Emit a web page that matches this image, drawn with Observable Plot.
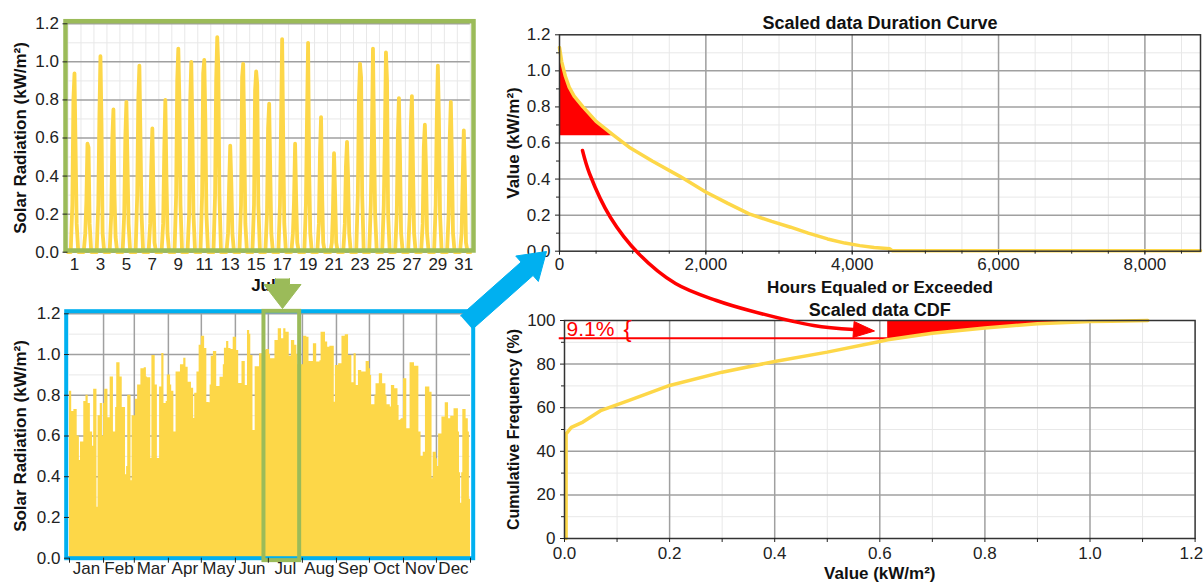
<!DOCTYPE html>
<html><head><meta charset="utf-8">
<script src="https://cdn.jsdelivr.net/npm/d3@7"></script>
<script src="https://cdn.jsdelivr.net/npm/@observablehq/plot@0.6"></script>
<style>
html,body{margin:0;padding:0;background:#fff;}
#root{position:relative;width:1204px;height:582px;overflow:hidden;background:#fff;}
#root svg{position:absolute;background:transparent;overflow:visible;}
</style></head><body><div id="root"></div>
<script>
// ---------- DATA ----------
// July hourly profile: values at these hours of each day (first/last are zero)
const julyShapeHours = [5, 8, 10, 12, 14, 16, 19];
const julyProfiles = [
  [0.25,0.80,0.94,0.55,0.15],[0.10,0.27,0.57,0.55,0.15],[0.25,0.70,1.03,0.67,0.10],
  [0.20,0.60,0.75,0.30,0.08],[0.20,0.60,0.79,0.47,0.15],[0.30,0.80,0.98,0.60,0.20],
  [0.15,0.45,0.65,0.31,0.05],[0.15,0.53,0.80,0.40,0.10],[0.30,0.90,1.07,0.80,0.25],
  [0.20,0.79,1.00,0.65,0.20],[0.30,0.94,1.01,0.70,0.20],[0.30,0.90,1.13,0.97,0.30],
  [0.10,0.35,0.56,0.37,0.10],[0.25,0.92,0.99,0.60,0.15],[0.25,0.85,0.95,0.88,0.25],
  [0.20,0.65,0.78,0.43,0.10],[0.25,0.67,1.12,0.60,0.15],[0.10,0.27,0.57,0.27,0.05],
  [0.25,0.70,1.10,0.43,0.10],[0.15,0.52,0.71,0.30,0.05],[0.05,0.22,0.52,0.30,0.05],
  [0.15,0.45,0.58,0.39,0.10],[0.30,0.80,0.99,0.92,0.30],[0.25,0.60,1.07,0.60,0.20],
  [0.25,0.60,1.05,0.90,0.20],[0.20,0.61,0.81,0.50,0.10],[0.20,0.66,0.82,0.45,0.10],
  [0.15,0.55,0.67,0.45,0.10],[0.25,0.70,0.98,0.70,0.20],[0.20,0.60,0.79,0.49,0.10],
  [0.10,0.39,0.64,0.40,0.05]
];
const julyTickDays = [1,3,5,7,9,11,13,15,17,19,21,23,25,27,29,31];

// Annual daily peaks
const monthNames = ["Jan","Feb","Mar","Apr","May","Jun","Jul","Aug","Sep","Oct","Nov","Dec"];
const monthDays = [31,28,31,30,31,30,31,31,30,31,30,31];
const jan = [0.82,0.82,0.72,0.72,0.73,0.73,0.73,0.60,0.60,0.48,0.57,0.57,0.57,0.77,0.77,0.80,0.80,0.76,0.76,0.62,0.62,0.55,0.83,0.83,0.83,0.25,0.70,0.70,0.76,0.76,0.60];
const feb = [0.76,0.83,0.83,0.83,0.69,0.69,0.89,0.89,0.89,0.62,0.62,0.74,0.96,0.96,0.96,0.89,0.89,0.74,0.74,0.74,0.41,0.45,0.80,0.80,0.80,0.38,0.70,0.70];
const mar = [0.70,0.78,0.78,0.85,0.85,0.85,0.93,0.93,0.93,0.935,0.935,0.89,0.886,0.886,0.886,0.49,0.995,0.995,0.995,0.85,0.85,0.49,0.49,0.84,0.84,1.005,1.005,0.76,0.76,0.77,0.90];
const apr = [0.90,0.90,0.85,0.82,0.82,0.62,0.62,0.914,0.914,0.914,0.914,0.95,0.95,0.95,0.982,0.982,0.938,0.938,0.864,0.864,0.864,0.835,0.835,0.686,0.81,0.81,0.914,0.914,1.045,1.045];
const may = [1.09,1.09,1.09,1.03,1.03,0.765,0.765,0.763,0.85,0.992,0.992,1.015,1.015,1.015,0.843,0.843,0.843,0.889,0.889,0.889,0.95,1.031,1.031,1.064,1.064,1.03,1.03,1.025,1.025,1.085,1.085];
const jun = [1.085,1.02,1.02,0.858,0.858,0.858,0.966,0.966,0.966,0.848,0.848,1.118,1.118,1.10,0.995,0.995,0.627,0.627,0.94,0.94,0.94,0.94,1.004,1.004,1.004,0.81,1.02,1.02,1.025,1.025];
const jul = [1.025,1.0,0.979,0.979,0.979,0.979,1.069,1.069,1.069,1.127,1.127,1.127,1.078,1.078,1.127,1.127,1.11,1.11,1.11,0.992,0.992,1.069,1.069,1.069,1.045,1.045,1.0,0.95,0.95,0.95,0.95];
const aug = [0.95,1.09,1.09,1.09,1.085,1.085,0.966,0.966,0.966,0.966,1.053,1.053,1.053,0.963,0.963,0.963,0.97,1.11,1.11,1.11,1.11,1.061,1.061,1.036,1.036,1.041,1.041,1.041,1.041,0.766,0.946];
const sep = [0.946,0.946,0.955,0.955,0.955,1.09,1.09,1.09,1.097,1.097,1.097,0.995,0.995,0.995,0.861,0.861,1.004,1.004,0.848,0.848,0.922,0.922,0.922,0.914,0.914,0.914,0.914,0.966,0.966,0.966];
const oct = [0.93,0.897,0.753,0.753,0.753,0.80,0.857,0.857,0.857,0.906,0.906,0.906,0.857,0.857,0.857,0.80,0.753,0.753,0.753,0.742,0.848,0.848,0.848,0.832,0.832,0.832,0.75,0.676,0.68,0.685,0.685];
const nov = [0.881,0.881,0.881,0.635,0.635,0.635,0.96,0.96,0.96,0.96,0.943,0.943,0.943,0.943,0.62,0.62,0.50,0.50,0.52,0.52,0.84,0.84,0.84,0.84,0.815,0.815,0.39,0.52,0.52,0.52];
const dec = [0.488,0.45,0.61,0.61,0.61,0.693,0.693,0.693,0.763,0.763,0.763,0.685,0.685,0.697,0.697,0.697,0.734,0.734,0.734,0.734,0.62,0.42,0.27,0.42,0.73,0.73,0.73,0.685,0.685,0.62,0.29];
const julyBox = [{start: 177, end: 209.5}];

// Duration curve (hours equaled or exceeded, value)
const durHours  = [0,30,80,132,200,321,500,750,952,1267,1645,1992,2300,2591,2900,3158,3400,3663,3900,4104,4300,4514,4545,8760];
const durValues = [1.13,1.05,0.97,0.91,0.86,0.80,0.72,0.64,0.577,0.50,0.415,0.33,0.265,0.207,0.165,0.133,0.10,0.068,0.045,0.031,0.02,0.013,0.003,0.003];
const durTicks = [0, 2000, 4000, 6000, 8000];
const durRedLevel = 0.64;
const durRedUntil = 750;

// CDF (value, cumulative %)
const cdfValues = [0.003,0.003,0.013,0.035,0.07,0.123,0.2,0.3,0.4,0.5,0.6,0.615,0.7,0.8,0.9,1.0,1.04,1.11];
const cdfPct    = [0,48,51,53.4,58.8,63.4,70.2,76.3,81.2,85.5,90.4,91.2,94.2,96.6,98.5,99.5,99.7,100];
const cdfRedFrom = 0.615, cdfRedTo = 1.04, cdfLine = 91.9;
const exceedLabel = "9.1%";

// ---------- STYLE ----------
const FONT = '"Liberation Sans", Arial, Helvetica, sans-serif';
const YEL = "#FDD748", GREEN = "#9BBB59", BLUE = "#00B0F0", RED = "#FF0000";
const MAJ = "#a0a0a0", MIN = "#e8e8e8";
const root = document.getElementById("root");
function place(svg, left, top) { svg.style.left = left + "px"; svg.style.top = top + "px"; root.appendChild(svg); }
const baseStyle = {fontFamily: FONT, fontSize: "17px", color: "#222", background: "transparent", overflow: "visible"};
const tenths = d3.range(0, 13).map(d => d / 10);
const oddTenths = tenths.filter((d, i) => i % 2 === 1);
const fifths = tenths.filter((d, i) => i % 2 === 0);
const lab = {lineAnchor: "middle", textAnchor: "middle", fontWeight: "bold", fill: "#111"};
const f1 = d3.format(".1f"), fComma = d3.format(",");

// ---------- PANEL A: July hourly ----------
const julyPts = [{h: 0, v: 0}];
julyProfiles.forEach((vals, i) => {
  const full = [0, ...vals, 0];
  julyShapeHours.forEach((h, k) => julyPts.push({h: 24 * i + h, v: full[k]}));
});
julyPts.push({h: 744, v: 0});

place(Plot.plot({
  width: 480, height: 300,
  marginLeft: 67.5, marginRight: 10.2, marginTop: 23.3, marginBottom: 48.3,
  style: baseStyle,
  x: {domain: [0, 744]}, y: {domain: [0, 1.2]},
  marks: [
    Plot.gridX(d3.range(0, 745, 24), {stroke: MIN, strokeOpacity: 1}),
    Plot.gridY(oddTenths, {stroke: MIN, strokeOpacity: 1}),
    Plot.gridY(fifths, {stroke: MAJ, strokeOpacity: 1, strokeWidth: 1.5}),
    Plot.line(julyPts, {x: "h", y: "v", stroke: YEL, strokeWidth: 3.8, strokeLinejoin: "round"}),
    Plot.frame({stroke: GREEN, strokeWidth: 4.5, insetLeft: -2.5, insetRight: -3.2, insetTop: -2.6, insetBottom: 1.7}),
    Plot.axisY(fifths, {tickFormat: f1, tickSize: 5, tickPadding: 4, label: null}),
    Plot.axisX(julyTickDays.map(d => 24 * (d - 1) + 12), {tickFormat: h => String(Math.round((h - 12) / 24 + 1)), tickSize: 0, tickPadding: 6, label: null}),
    Plot.text(["July"], {...lab, frameAnchor: "bottom", dy: 33.5, dx: -1}),
    Plot.text(["Solar Radiation (kW/m²)"], {...lab, frameAnchor: "left", rotate: -90, dx: -47.5})
  ]
}), 0, 0);

// ---------- PANEL B: annual daily peaks ----------
const dailyPeak = [...jan, ...feb, ...mar, ...apr, ...may, ...jun, ...jul, ...aug, ...sep, ...oct, ...nov, ...dec];
const yearPts = dailyPeak.map((v, i) => ({d: i, v}));
yearPts.push({d: dailyPeak.length, v: dailyPeak[dailyPeak.length - 1]});
const monthStart = [0, ...d3.cumsum(monthDays)];
const monthMid = monthNames.map((m, i) => (monthStart[i] + monthStart[i + 1]) / 2);
const nameByMid = new Map(monthMid.map((m, i) => [m, monthNames[i]]));

place(Plot.plot({
  width: 480, height: 292,
  marginLeft: 69, marginRight: 10, marginTop: 23.3, marginBottom: 24.3,
  style: baseStyle,
  x: {domain: [0, 365]}, y: {domain: [0, 1.2]},
  marks: [
    Plot.gridY(oddTenths, {stroke: MIN, strokeOpacity: 1}),
    Plot.gridY(fifths, {stroke: MAJ, strokeOpacity: 1, strokeWidth: 1.5}),
    Plot.gridX(monthStart.slice(1, 12), {stroke: MAJ, strokeOpacity: 1, strokeWidth: 1.5}),
    Plot.areaY(yearPts, {x: "d", y: "v", curve: "step-after", fill: YEL}),
    Plot.frame({stroke: BLUE, strokeWidth: 4, insetLeft: -3.3, insetRight: -2.7, insetTop: -2.6}),
    Plot.rect(julyBox, {x1: "start", x2: "end", y1: -0.012, y2: 1.212, stroke: GREEN, strokeWidth: 4, fill: "none"}),
    Plot.axisY(fifths, {tickFormat: f1, tickSize: 5, tickPadding: 4, label: null}),
    Plot.axisX(monthStart, {text: null, tickSize: 5, label: null}),
    Plot.axisX(monthMid, {tickFormat: d => nameByMid.get(d), tickSize: 0, tickPadding: 4, label: null}),
    Plot.text(["Solar Radiation (kW/m²)"], {...lab, frameAnchor: "left", rotate: -90, dx: -49})
  ]
}), 0, 290);

// ---------- PANEL C: duration curve ----------
const durPts = durHours.map((h, i) => ({h, v: durValues[i]}));
place(Plot.plot({
  width: 714, height: 300,
  marginLeft: 69, marginRight: 4, marginTop: 34.3, marginBottom: 49.3,
  style: baseStyle,
  x: {domain: [0, 8760]}, y: {domain: [0, 1.2]},
  marks: [
    Plot.gridX(d3.range(500, 8761, 500), {stroke: MIN, strokeOpacity: 1}),
    Plot.gridY(oddTenths, {stroke: MIN, strokeOpacity: 1}),
    Plot.gridX(durTicks.slice(1), {stroke: MAJ, strokeOpacity: 1, strokeWidth: 1.5}),
    Plot.gridY(fifths.slice(1, 6), {stroke: MAJ, strokeOpacity: 1, strokeWidth: 1.5}),
    Plot.areaY(durPts.filter(d => d.h <= durRedUntil), {x: "h", y1: durRedLevel, y2: "v", fill: RED}),
    Plot.line(durPts, {x: "h", y: "v", stroke: YEL, strokeWidth: 3.5}),
    Plot.frame({stroke: "#333", strokeWidth: 1.5}),
    Plot.axisY(fifths, {tickFormat: f1, tickSize: 4, tickPadding: 5, label: null}),
    Plot.axisY(oddTenths, {text: null, tickSize: 3, label: null}),
    Plot.axisX(durTicks, {tickFormat: fComma, tickSize: 4, tickPadding: 3, label: null}),
    Plot.axisX(d3.range(500, 8761, 500), {text: null, tickSize: 3, label: null}),
    Plot.text(["Scaled data Duration Curve"], {...lab, frameAnchor: "top", dy: -12, fontSize: 18}),
    Plot.text(["Hours Equaled or Exceeded"], {...lab, frameAnchor: "bottom", dy: 36}),
    Plot.text(["Value (kW/m²)"], {...lab, frameAnchor: "left", rotate: -90, dx: -46})
  ]
}), 490, 0);

// ---------- PANEL D: CDF ----------
const cdfPts = cdfValues.map((x, i) => ({x, p: cdfPct[i]}));
const cdfXTicks = fifths;
place(Plot.plot({
  width: 714, height: 292,
  marginLeft: 74, marginRight: 9.4, marginTop: 30, marginBottom: 44,
  style: baseStyle,
  x: {domain: [0, 1.2]}, y: {domain: [0, 100]},
  marks: [
    Plot.gridX(oddTenths, {stroke: MIN, strokeOpacity: 1}),
    Plot.gridY(d3.range(10, 100, 20), {stroke: MIN, strokeOpacity: 1}),
    Plot.gridX(fifths.slice(1, 6), {stroke: MAJ, strokeOpacity: 1, strokeWidth: 1.5}),
    Plot.gridY([20, 40, 60, 80], {stroke: MAJ, strokeOpacity: 1, strokeWidth: 1.5}),
    Plot.areaY(cdfPts.filter(d => d.x >= cdfRedFrom && d.x <= cdfRedTo), {x: "x", y1: "p", y2: 100, fill: RED}),
    Plot.ruleY([cdfLine], {x1: -0.01, x2: cdfRedFrom, stroke: RED, strokeWidth: 2}),
    Plot.line(cdfPts, {x: "x", y: "p", stroke: YEL, strokeWidth: 3.5}),
    Plot.frame({stroke: "#333", strokeWidth: 1.5}),
    Plot.text([exceedLabel], {x: 0.004, y: 96.2, textAnchor: "start", lineAnchor: "middle", fill: RED, fontSize: 21}),
    Plot.text(["{"], {x: 0.12, y: 95.8, lineAnchor: "middle", fill: RED, fontSize: 24}),
    Plot.axisY([0, 20, 40, 60, 80, 100], {tickSize: 4, tickPadding: 5, label: null}),
    Plot.axisY(d3.range(10, 100, 20), {text: null, tickSize: 3, label: null}),
    Plot.axisX(cdfXTicks.slice(0, -1), {tickFormat: f1, tickSize: 4, tickPadding: 4, label: null}),
    Plot.axisX(oddTenths.concat([1.2]), {text: null, tickSize: 4, label: null}),
    Plot.text(cdfXTicks.slice(-1), {x: d => d, frameAnchor: "bottom", lineAnchor: "top", dy: 8, textAnchor: "end", dx: 8, text: f1, fill: "#222"}),
    Plot.text(["Scaled data CDF"], {...lab, frameAnchor: "top", dy: -10, fontSize: 18}),
    Plot.text(["Value (kW/m²)"], {...lab, frameAnchor: "bottom", dy: 35}),
    Plot.text(["Cumulative Frequency (%)"], {...lab, frameAnchor: "left", rotate: -90, dx: -51, fontSize: 16})
  ]
}), 490, 290);

// ---------- OVERLAY ARROWS (page pixel space) ----------
function blockArrow(x0, y0, x1, y1, shaftHalf, headHalf, headLen) {
  const L = Math.hypot(x1 - x0, y1 - y0), ux = (x1 - x0) / L, uy = (y1 - y0) / L, nx = -uy, ny = ux;
  const bx = x1 - ux * headLen, by = y1 - uy * headLen;
  return [[x0 + nx * shaftHalf, y0 + ny * shaftHalf], [bx + nx * shaftHalf, by + ny * shaftHalf],
          [bx + nx * headHalf, by + ny * headHalf], [x1, y1], [bx - nx * headHalf, by - ny * headHalf],
          [bx - nx * shaftHalf, by - ny * shaftHalf], [x0 - nx * shaftHalf, y0 - ny * shaftHalf]]
    .map(([x, y]) => ({x, y}));
}
const blueArrow = blockArrow(466, 322, 546, 251, 9, 17, 26);
const greenArrow = blockArrow(282, 278, 282, 308, 7, 18.5, 24);
const redCurve = [[582,150],[589,173],[610,217],[638,253],[675,283],[716,300],[749,310],[813,325],[853,329]].map(([x, y]) => ({x, y}));
const redHead = blockArrow(853, 329, 874, 330.5, 0, 8, 21);

place(Plot.plot({
  width: 1204, height: 582, margin: 0,
  style: {background: "transparent", overflow: "visible"},
  x: {type: "identity", axis: null}, y: {type: "identity", axis: null},
  marks: [
    Plot.line(blueArrow, {x: "x", y: "y", fill: BLUE, stroke: BLUE, strokeWidth: 1}),
    Plot.line(greenArrow, {x: "x", y: "y", fill: GREEN, stroke: GREEN, strokeWidth: 1}),
    Plot.line(redCurve, {x: "x", y: "y", stroke: RED, strokeWidth: 3.5, curve: "catmull-rom"}),
    Plot.line(redHead, {x: "x", y: "y", fill: RED, stroke: RED, strokeWidth: 1})
  ]
}), 0, 0);
</script></body></html>
